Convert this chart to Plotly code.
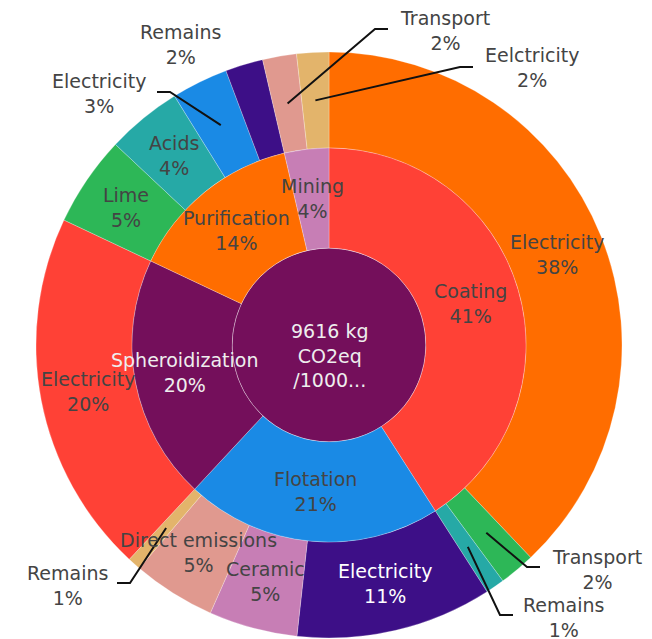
import math
import plotly.graph_objects as go

# ---- data ----
center_label = "9616 kg<br>CO2eq<br>/1000..."
center_value = [9616]

stages = ["Coating", "Flotation", "Spheroidization", "Purification", "Mining"]
stage_colors = ["#FF4136", "#1A8AE5", "#740F5B", "#FF6D00", "#C77EB5"]
stage_text_colors = ["#444", "#444", "#eeeeee", "#444", "#444"]

sub_parents = ["Coating", "Coating", "Coating",
               "Flotation", "Flotation", "Flotation", "Flotation",
               "Spheroidization",
               "Purification", "Purification", "Purification", "Purification",
               "Mining", "Mining"]
sub_labels = ["Electricity", "Transport", "Remains",
              "Electricity", "Ceramic", "Direct emissions", "Remains",
              "Electricity",
              "Lime", "Acids", "Electricity", "Remains",
              "Transport", "Eelctricity"]
sub_values = [3646, 190, 100,
              1040, 470, 440, 70,
              1930,
              480, 400, 300, 200,
              180, 170]
sub_colors = ["#FF6D00", "#2DB757", "#26A9A6",
              "#3D0F87", "#C77EB5", "#E0998F", "#E3B46B",
              "#FF4136",
              "#2DB757", "#26A9A6", "#1A8AE5", "#3D0F87",
              "#E0998F", "#E3B46B"]
sub_text_colors = ["#444", "#444", "#444",
                   "#ffffff", "#444", "#444", "#444",
                   "#444",
                   "#444", "#444", "#444", "#444",
                   "#444", "#444"]

stage_values = [sum(v for p, v in zip(sub_parents, sub_values) if p == s) for s in stages]
total = sum(sub_values)

# ---- layout settings ----
FONT = "DejaVu Sans"
FS = 19
W, H = 652, 639
PAGE_OFF = 8                      # default body margin of the html page
ML, MR, MT, MB = 28, 38, 44, 9
PW, PH = W - ML - MR, H - MT - MB
OUTER_HOLE = 0.6724
INNER_HOLE = 0.492
INNER_FRAC = 0.6724
CENTER_FRAC = 0.331
CENTER_TEXT_SHIFT = -10

# external callouts: slice index -> (label centre px, elbow px or None)
callouts = {
    1: ((597, 569), (527, 567)),
    2: ((563, 617), (500, 615)),
    6: ((67, 585), (130, 583)),
    10: ((99, 93), (170, 92)),
    11: ((180, 44), None),
    12: ((445, 30), (375, 29)),
    13: ((532, 67), (460, 67)),
}
TAIL = 13


def px2paper(px, py):
    return (px - PAGE_OFF - ML) / PW, 1 - (py - PAGE_OFF - MT) / PH


def dom(frac):
    return [0.5 - frac / 2, 0.5 + frac / 2]


def mid_angles(values):
    tot = sum(values)
    out, cum = [], 0
    for v in values:
        out.append(2 * math.pi * (cum + v / 2) / tot)
        cum += v
    return out


def polar(theta, r):
    return 0.5 + r * math.sin(theta), 0.5 + r * math.cos(theta)


fig = go.Figure()

# sub-process ring (outer)
fig.add_trace(go.Pie(
    labels=[p + " / " + l for p, l in zip(sub_parents, sub_labels)],
    values=sub_values, textinfo="none",
    marker=dict(colors=sub_colors, line=dict(color="rgba(255,255,255,0.5)", width=0.5)),
    hole=OUTER_HOLE,
    domain=dict(x=[0, 1], y=[0, 1]),
    sort=False, direction="clockwise", rotation=0, showlegend=False,
    automargin=False,
))

# centre disc
fig.add_trace(go.Pie(
    labels=["root"], values=center_value, textinfo="none",
    marker=dict(colors=["#740F5B"], line=dict(color="rgba(255,255,255,0.6)", width=1)),
    domain=dict(x=dom(CENTER_FRAC), y=dom(CENTER_FRAC)),
    sort=False, direction="clockwise", rotation=0, showlegend=False,
    automargin=False, hoverinfo="skip",
))

# stage ring (inner)
fig.add_trace(go.Pie(
    labels=stages, values=stage_values, textinfo="none",
    marker=dict(colors=stage_colors, line=dict(color="rgba(255,255,255,0.5)", width=0.5)),
    hole=INNER_HOLE,
    domain=dict(x=dom(INNER_FRAC), y=dom(INNER_FRAC)),
    sort=False, direction="clockwise", rotation=0, showlegend=False,
    automargin=False,
))

annotations = []
shapes = []


def add_label(x, y, text, color, yshift=0):
    annotations.append(dict(
        x=x, y=y, xref="paper", yref="paper", showarrow=False,
        text=text, align="center", xanchor="center", yanchor="middle",
        yshift=yshift, font=dict(family=FONT, size=FS, color=color),
    ))


# centre label
add_label(0.5, 0.5, center_label, "#eeeeee", CENTER_TEXT_SHIFT)

# inner ring labels at mid-angle / mid-radius
r_inner_mid = 0.5 * INNER_FRAC * (1 + INNER_HOLE) / 2
for th, lab, v, c in zip(mid_angles(stage_values), stages, stage_values, stage_text_colors):
    x, y = polar(th, r_inner_mid)
    add_label(x, y, f"{lab}<br>{round(100 * v / total)}%", c)

# outer ring labels (inside or as callouts)
r_outer_mid = 0.5 * (1 + OUTER_HOLE) / 2
for i, th in enumerate(mid_angles(sub_values)):
    v = sub_values[i]
    text = f"{sub_labels[i]}<br>{round(100 * v / total)}%"
    if i not in callouts:
        x, y = polar(th, r_outer_mid)
        add_label(x, y, text, sub_text_colors[i])
        continue
    (lx, ly), elbow = callouts[i]
    ax, ay = px2paper(lx, ly)
    add_label(ax, ay, text, "#444")
    if elbow is not None:
        sx, sy = polar(th, r_outer_mid)
        ex, ey = px2paper(*elbow)
        tx, _ = px2paper(elbow[0] + TAIL * (1 if lx > elbow[0] else -1), elbow[1])
        shapes.append(dict(
            type="path", xref="paper", yref="paper",
            path=f"M {sx},{sy} L {ex},{ey} L {tx},{ey}",
            line=dict(color="#111", width=2),
        ))

fig.update_layout(
    width=W, height=H,
    margin=dict(l=ML, r=MR, t=MT, b=MB),
    paper_bgcolor="white", plot_bgcolor="white",
    font=dict(family=FONT, size=FS, color="#444"),
    annotations=annotations, shapes=shapes,
)

fig.write_html("out.html")
